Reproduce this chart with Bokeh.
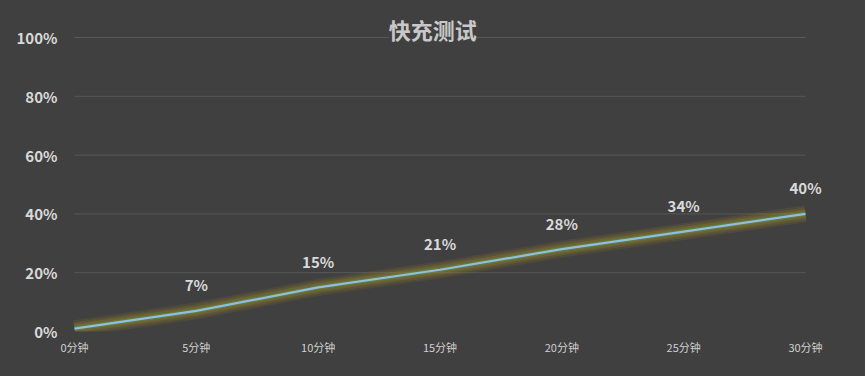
from bokeh.plotting import figure
from bokeh.models import ColumnDataSource, FixedTicker, Label, Range1d
from bokeh.core.properties import value
from bokeh.embed import file_html
from bokeh.resources import INLINE

title_text = "快充测试"
minutes = [0, 5, 10, 15, 20, 25, 30]
charge = [1, 7, 15, 21, 28, 34, 40]
label_minutes = [5, 10, 15, 20, 25, 30]
label_values = [7, 15, 21, 28, 34, 40]
label_texts = ["7%", "15%", "21%", "28%", "34%", "40%"]
x_ticks = [0, 5, 10, 15, 20, 25, 30]
x_tick_labels = ["0分钟", "5分钟", "10分钟", "15分钟", "20分钟", "25分钟", "30分钟"]
y_ticks = [0, 20, 40, 60, 80, 100]
y_tick_labels = ["0%", "20%", "40%", "60%", "80%", "100%"]
grid_levels = [20, 40, 60, 80, 100]

BG = "#404040"
FONT = "Noto Sans CJK SC"

# frame spans 64..825 px horizontally (0 min at 74, 30 min at 805) and 10..331 px vertically
px_per_min = (805 - 74) / 30.0
px_per_pct = (331 - 37) / 100.0
x_lo = 0 - 10 / px_per_min
x_hi = 30 + 20 / px_per_min
y_hi = 100 + 27 / px_per_pct

p = figure(width=865, height=376, output_backend="svg", toolbar_location=None,
           x_range=Range1d(x_lo, x_hi), y_range=Range1d(0, y_hi),
           min_border_left=64, min_border_right=40, min_border_top=10, min_border_bottom=45)
p.background_fill_alpha = 0
p.border_fill_alpha = 0
p.outline_line_color = None
p.styles = {"background-color": BG}

# gridlines from 0 to 30 min
p.segment(x0=[0] * len(grid_levels), x1=[30] * len(grid_levels), y0=grid_levels, y1=grid_levels,
          line_color="#585858", line_width=1)

line_src = ColumnDataSource(dict(x=minutes, y=charge))
# glow
for w, a, c in [(17, 0.12, "#b08a20"), (13, 0.18, "#a88c22"), (9, 0.24, "#96962a"),
                (5, 0.32, "#6a9a5a")]:
    p.line("x", "y", source=line_src, line_width=w, line_alpha=a, line_color=c,
           line_join="round", line_cap="butt")
p.line("x", "y", source=line_src, line_width=2.2, line_color="#8cc0dc", line_join="round")

lab_src = ColumnDataSource(dict(x=label_minutes, y=label_values, t=label_texts))
p.text("x", "y", text="t", source=lab_src, text_align="center", text_baseline="middle",
       y_offset=-26, text_font=value(FONT), text_font_style="bold",
       text_font_size="15px", text_color="#d9d9d9")

# axes
p.xaxis.ticker = FixedTicker(ticks=x_ticks)
p.xaxis.major_label_overrides = {t: l for t, l in zip(x_ticks, x_tick_labels)}
p.yaxis.ticker = FixedTicker(ticks=y_ticks)
p.yaxis.major_label_overrides = {t: l for t, l in zip(y_ticks, y_tick_labels)}
for ax in (p.xaxis, p.yaxis):
    ax.axis_line_color = None
    ax.major_tick_line_color = None
    ax.minor_tick_line_color = None
    ax.major_label_text_font = FONT
p.xaxis.major_label_text_font_size = "11px"
p.xaxis.major_label_text_color = "#d0d0d0"
p.xaxis.major_label_standoff = 1
p.yaxis.major_label_text_font_size = "15px"
p.yaxis.major_label_text_font_style = "bold"
p.yaxis.major_label_text_color = "#d9d9d9"
p.yaxis.major_label_standoff = 1

p.xgrid.grid_line_color = None
p.ygrid.grid_line_color = None

title = Label(x=14.7, y=100, y_offset=9, text=title_text, text_align="center",
              text_baseline="middle", text_font=FONT, text_font_style="bold",
              text_font_size="22px", text_color="#c8c8c8",
              background_fill_color=BG, level="overlay")
p.add_layout(title)

open("out.html", "w").write(file_html(p, INLINE))
